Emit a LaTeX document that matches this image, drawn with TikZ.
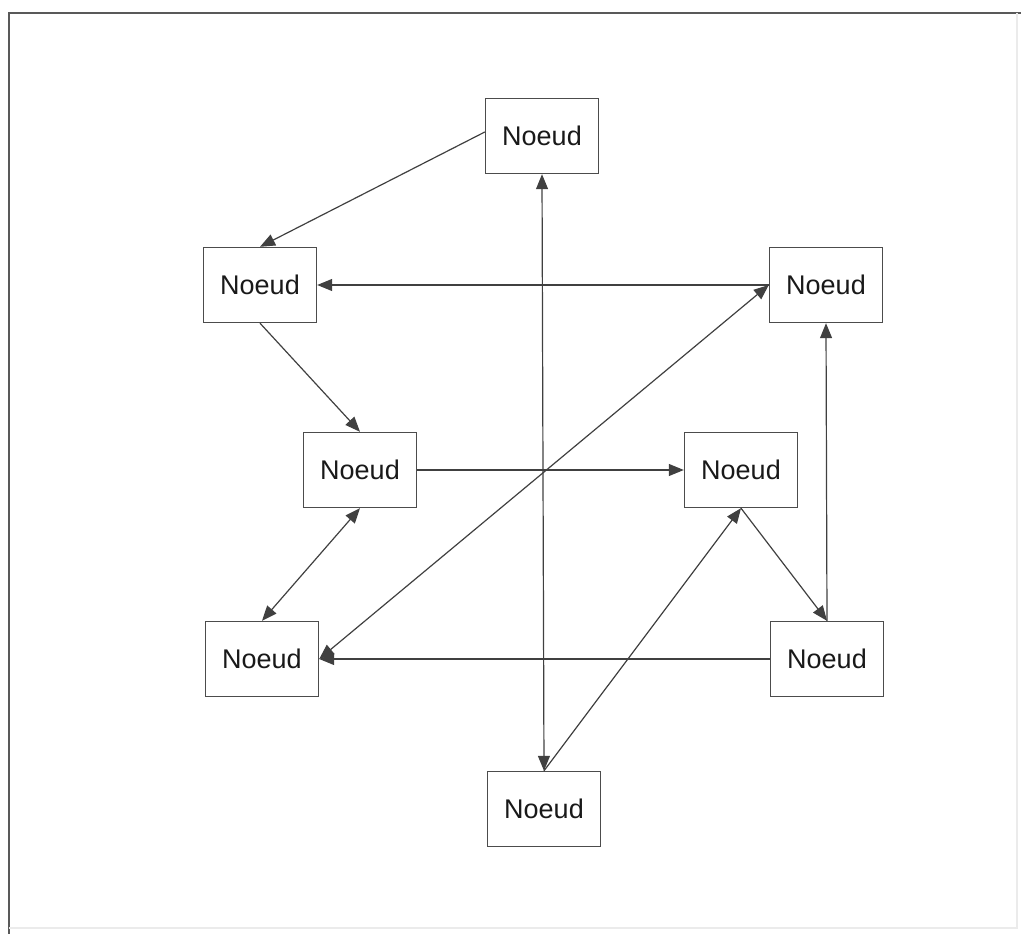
\documentclass[tikz,border=0pt]{standalone}
\usepackage{fontspec}
\setmainfont{Liberation Sans}
\usetikzlibrary{arrows.meta}
\begin{document}
\begin{tikzpicture}[x=1pt,y=-1pt,
  noeud/.style={draw=black!70, line width=1.4pt, fill=white, minimum width=113pt, minimum height=75pt,
    inner sep=0pt, font=\fontsize{27}{31}\selectfont, text=black!90},
  lien/.style={draw=black!75, line width=1.2pt, -{Triangle[length=15pt,width=12pt]}},
  lien2/.style={draw=black!75, line width=1.2pt, {Triangle[length=15pt,width=12pt]}-{Triangle[length=15pt,width=12pt]}}]
\useasboundingbox (0,0) rectangle (1021,934);
% frame
\draw[black!65, line width=2pt] (9,934) -- (9,13) -- (1021,13);
\draw[black!8, line width=1.5pt] (1017,13) -- (1017,928) -- (9,928);
% nodes
\node[noeud] (top) at (542,136) {Noeud};
\node[noeud] (lu)  at (260,285) {Noeud};
\node[noeud] (ru)  at (826,285) {Noeud};
\node[noeud] (ml)  at (360,470) {Noeud};
\node[noeud] (mr)  at (741,470) {Noeud};
\node[noeud] (ll)  at (262,659) {Noeud};
\node[noeud] (lr)  at (827,659) {Noeud};
\node[noeud] (bot) at (544,809) {Noeud};
% connectors
\draw[lien] ([yshift=4pt]top.west) -- (lu.north);
\draw[lien] (ru.west) -- (lu.east);
\draw[lien2] (top.south) -- (bot.north);
\draw[lien] (lu.south) -- (ml.north);
\draw[lien] (ml.east) -- (mr.west);
\draw[lien2] (ml.south) -- (ll.north);
\draw[lien2] (ru.west) -- (ll.east);
\draw[lien] (mr.south) -- (lr.north);
\draw[lien] (bot.north) -- (mr.south);
\draw[lien] (lr.north) -- (ru.south);
\draw[lien] (lr.west) -- (ll.east);
\end{tikzpicture}
\end{document}
